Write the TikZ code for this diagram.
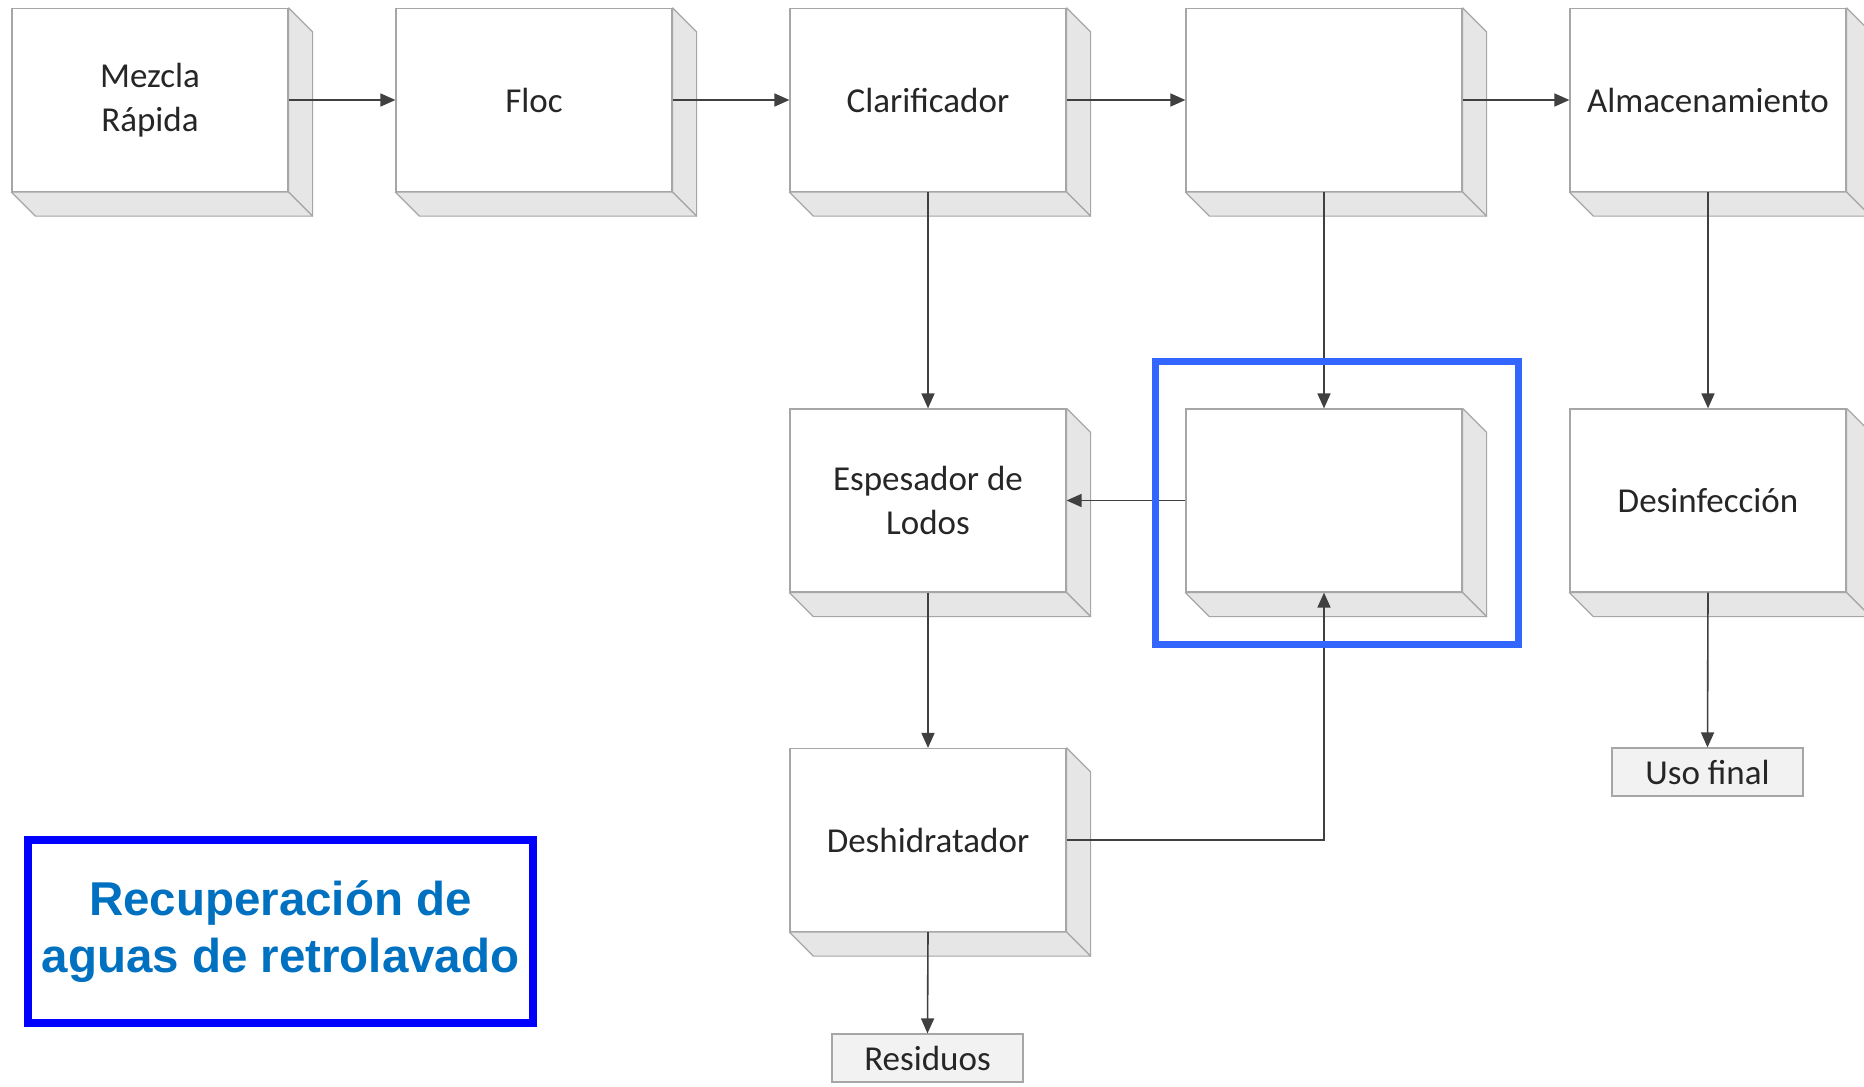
\documentclass[tikz,border=0pt]{standalone}
\usepackage{fontspec}
\setmainfont{Carlito}
\newfontfamily\legendfont{Liberation Sans}
\usetikzlibrary{arrows.meta}
\definecolor{edgegray}{HTML}{A6A6A6}
\definecolor{sidegray}{HTML}{E6E6E6}
\definecolor{arrowgray}{HTML}{404040}
\definecolor{textgray}{HTML}{262626}
\definecolor{hiblue}{HTML}{3366FF}
\definecolor{legblue}{HTML}{0000FF}
\definecolor{legtext}{HTML}{0070C0}
\definecolor{smallfill}{HTML}{F2F2F2}
\tikzset{
  blockbox/.style={draw=edgegray, line width=1.2pt, fill=white, minimum width=276pt,
    minimum height=183pt, inner sep=0pt, align=center, text=textgray,
    font=\fontsize{35}{44}\selectfont},
  endbox/.style={draw=edgegray, line width=1.2pt, fill=smallfill, minimum width=191pt,
    minimum height=48pt, inner sep=0pt, text=textgray, font=\fontsize{35}{42}\selectfont},
  sideface/.style={fill=sidegray, draw=edgegray, line width=1.2pt, line join=round},
  arr/.style={draw=arrowgray, line width=1.6pt, -{Triangle[length=15pt,width=13pt]}}
}
\begin{document}
\begin{tikzpicture}[x=1pt,y=-1pt]
\useasboundingbox[fill=white] (0,0) rectangle (1864,1087);
% row 1
\node[blockbox] (mix)  at (150,100)  {Mezcla\\Rápida};
\node[blockbox] (floc) at (534,100)  {Floc};
\node[blockbox] (clar) at (928,100)  {Clarificador};
\node[blockbox] (filt) at (1324,100) {};
\node[blockbox] (alm)  at (1708,100) {Almacenamiento};
% row 2
\node[blockbox] (esp) at (928,500.5)  {Espesador de\\Lodos};
\node[blockbox] (rec) at (1324,500.5) {};
\node[blockbox] (dis) at (1708,500.5) {Desinfección};
% row 3
\node[blockbox] (dehy) at (928,840) {Deshidratador};
% end boxes
\node[endbox] (res) at (927.5,1058) {Residuos};
\node[endbox] (uso) at (1707.5,772) {Uso final};
% 3D extrusions
\foreach \n in {mix,floc,clar,filt,alm,esp,rec,dis,dehy}{
  \path[sideface] (\n.north east) -- ++(24,24) -- ([shift={(24,24)}]\n.south east)
     -- (\n.south east) -- cycle;
  \path[sideface] (\n.south west) -- (\n.south east) -- ([shift={(24,24)}]\n.south east)
     -- ([shift={(24,24)}]\n.south west) -- cycle;
}
% connectors
\draw[arr] (mix.east) -- (floc.west);
\draw[arr] (floc.east) -- (clar.west);
\draw[arr] (clar.east) -- (filt.west);
\draw[arr] (filt.east) -- (alm.west);
\draw[arr] (clar.south) -- (esp.north);
\draw[arr] (filt.south) -- (rec.north);
\draw[arr] (alm.south) -- (dis.north);
\draw[arr] (rec.west) -- (esp.east);
\draw[arr] (esp.south) -- (dehy.north);
\draw[arr] (dehy.east) -| (rec.south);
\draw[arr] (dehy.south) -- (res.north);
\draw[arr] (dis.south) -- (uso.north);
% highlight
\node[draw=hiblue, line width=7pt, minimum width=363pt, minimum height=283pt, inner sep=0pt] (hl) at (1336.5,502.5) {};
% legend
\node[draw=legblue, line width=8pt, minimum width=505pt, minimum height=183pt, inner sep=0pt,
  text=legtext, align=center, font=\legendfont\bfseries\fontsize{47.5}{57}\selectfont] (leg) at (280.5,931.5)
  {Recuperación de\\aguas de retrolavado};
\end{tikzpicture}
\end{document}
